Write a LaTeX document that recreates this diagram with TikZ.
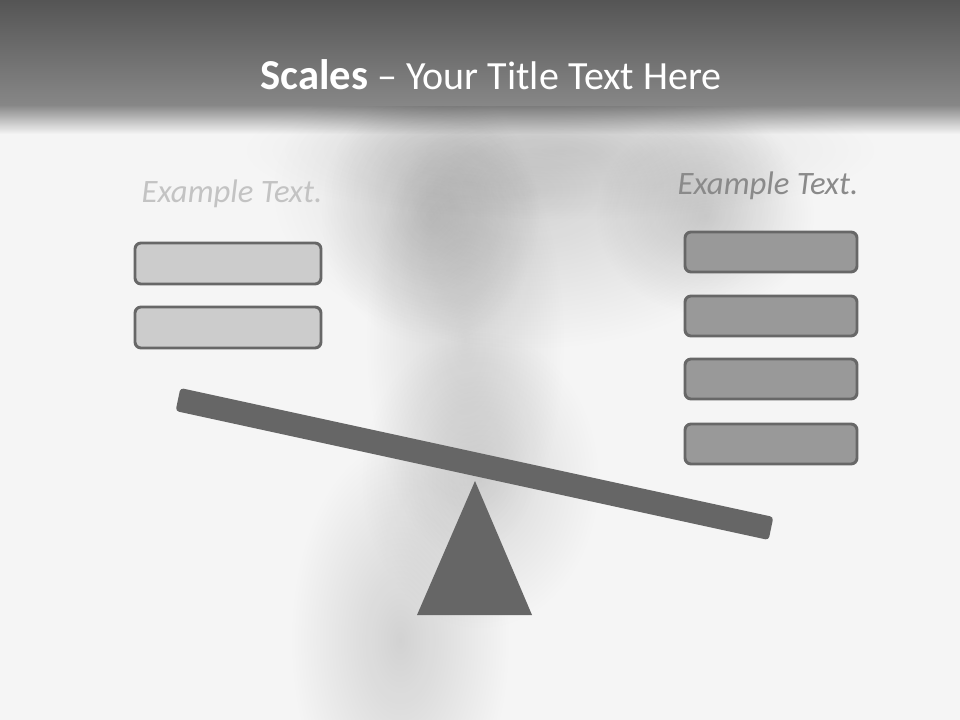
\documentclass[tikz,border=0pt]{standalone}
\usepackage{fontspec}
\setmainfont{Carlito}
\definecolor{bg}{HTML}{F5F5F5}
\definecolor{hdtop}{HTML}{555555}
\definecolor{hdbot}{HTML}{878787}
\definecolor{hdmul}{HTML}{8D8D8D}
\definecolor{boxline}{HTML}{676767}
\definecolor{leftfill}{HTML}{CCCCCC}
\definecolor{rightfill}{HTML}{999999}
\definecolor{dark}{HTML}{666666}
\definecolor{lefttext}{HTML}{C3C3C3}
\definecolor{righttext}{HTML}{8A8A8A}
\definecolor{shA}{HTML}{DBDBDB}
\definecolor{shB}{HTML}{E0E0E0}
\definecolor{shC}{HTML}{E6E6E6}
\begin{document}
\begin{tikzpicture}[x=0.75pt,y=-0.75pt,
  leftbox/.style={draw=boxline,fill=leftfill,line width=2.2pt,rounded corners=4.5pt},
  rightbox/.style={draw=boxline,fill=rightfill,line width=2.2pt,rounded corners=4.5pt},
  blob/.style={inner color=#1,outer color=white,draw=none},
  heading/.style={font=\fontsize{24.5}{28}\selectfont\itshape,inner sep=0pt}]
\useasboundingbox (0,0) rectangle (960,720);
\fill[bg] (0,0) rectangle (960,720);
% soft shadow
\begin{scope}[blend mode=multiply]
\shade[blob=shA] (530,190) ellipse (260 and 160);
\shade[blob=shA] (430,215) ellipse (110 and 130);
\shade[blob=shA] (705,215) ellipse (110 and 100);
\shade[blob=shB] (465,340) ellipse (100 and 220);
\shade[blob=shB] (480,480) ellipse (120 and 150);
\shade[blob=shA] (400,640) ellipse (110 and 200);
\shade[blob=shC] (560,150) ellipse (320 and 70);
% header fade
\shade[top color=hdmul,bottom color=white] (0,105) rectangle (960,134);
\end{scope}
% header
\shade[top color=hdtop,bottom color=hdbot] (0,0) rectangle (960,105.5);
\node[text=white,font=\fontsize{30}{36}\selectfont,inner sep=0pt] (title) at (491,75)
  {{\fontsize{32}{36}\selectfont\bfseries Scales} -- Your Title Text Here};
% headings
\node[heading,text=lefttext] (lt) at (232,194) {Example Text.};
\node[heading,text=righttext] (rt) at (768,186) {Example Text.};
% left boxes
\path[leftbox] (135,243) rectangle (321,284);
\path[leftbox] (135,307) rectangle (321,348);
% right boxes
\path[rightbox] (685,232) rectangle (857,272);
\path[rightbox] (685,296) rectangle (857,336);
\path[rightbox] (685,359) rectangle (857,399);
\path[rightbox] (685,424) rectangle (857,464);
% fulcrum
\fill[dark] (475,481) -- (532,615) -- (417,615) -- cycle;
% beam
\fill[dark,rounded corners=2.5pt] (180.4,388) -- (773.4,517) -- (768.6,540) -- (175.6,411) -- cycle;
\end{tikzpicture}
\end{document}
